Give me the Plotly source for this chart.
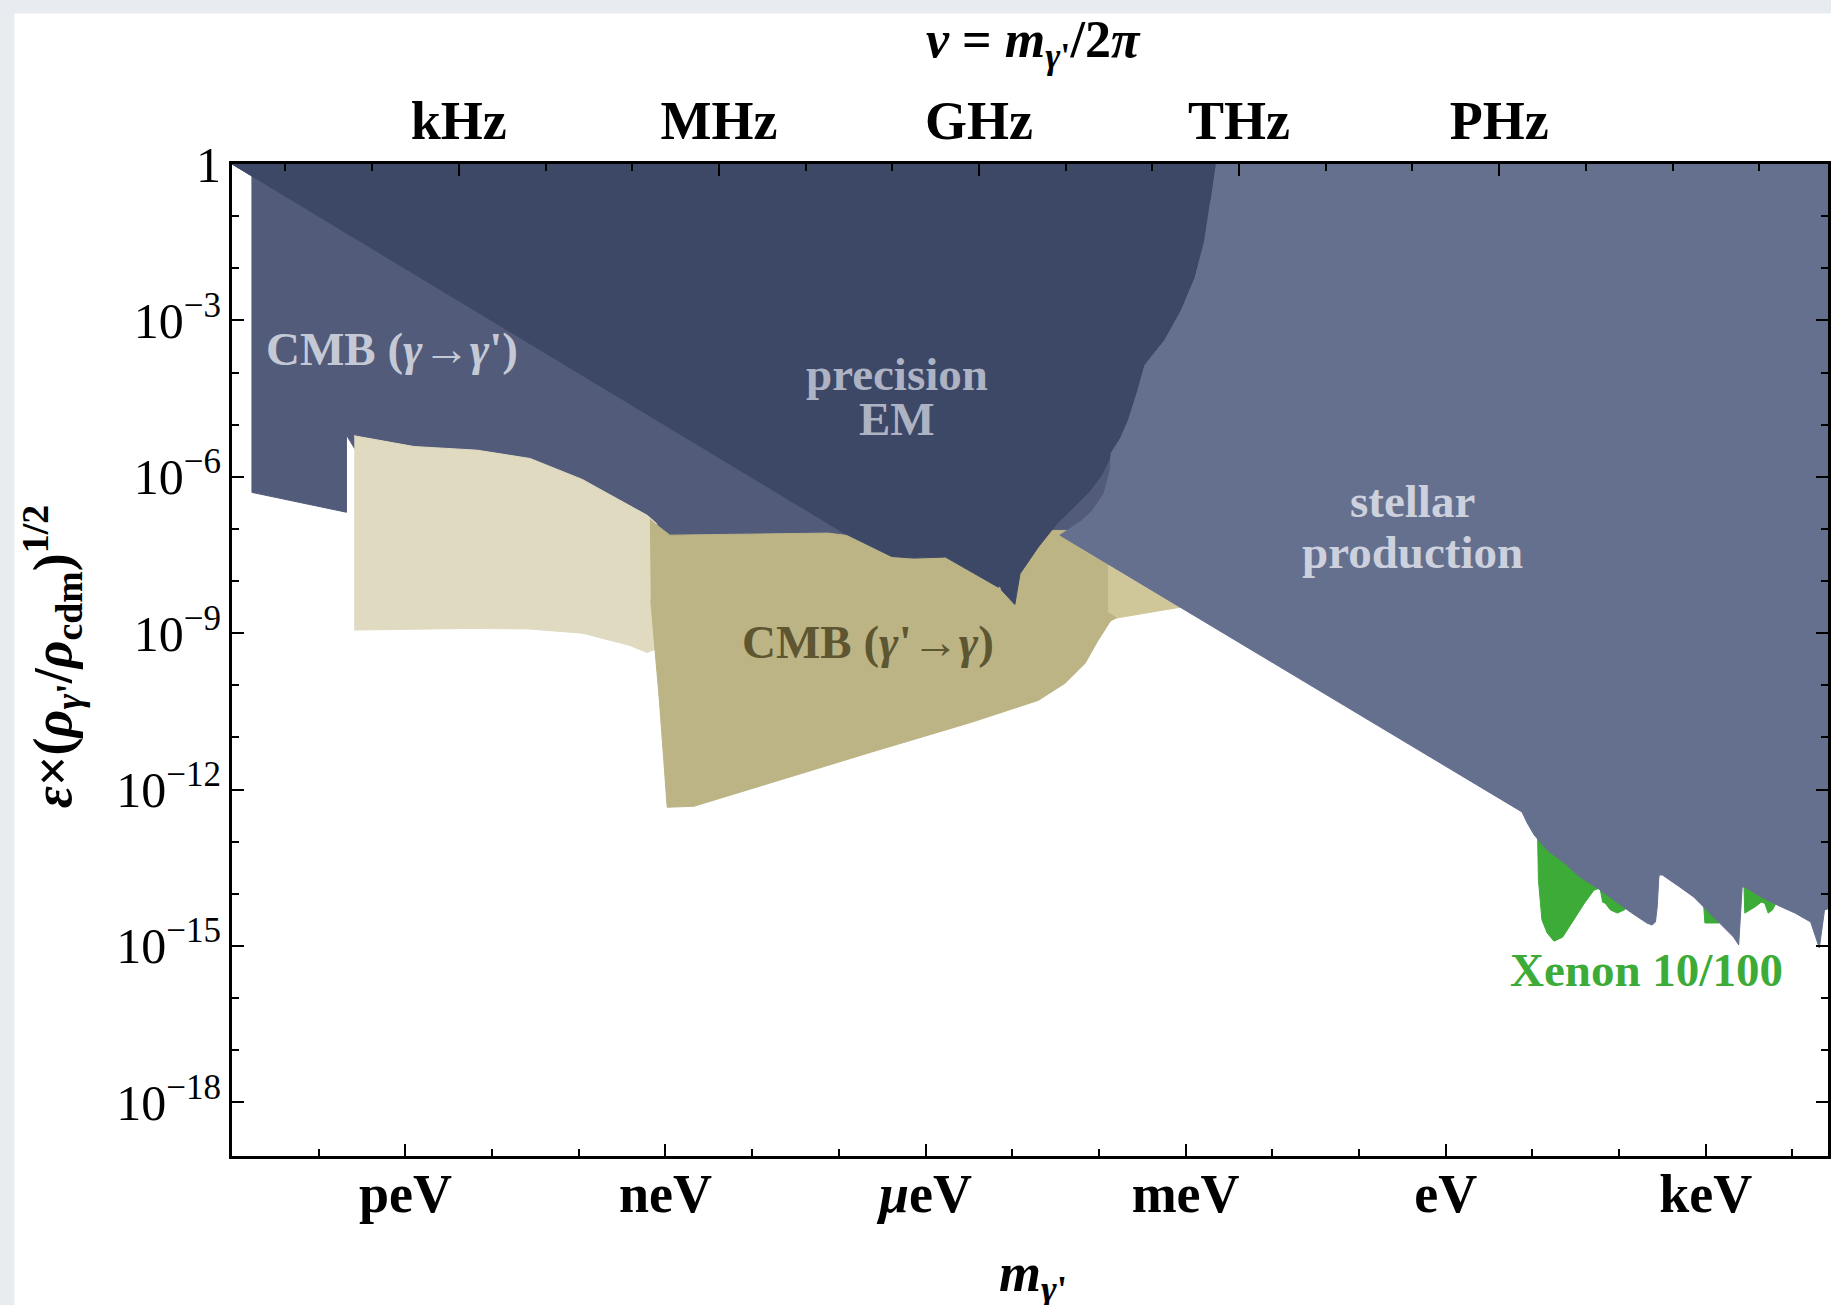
import numpy as np
import plotly.graph_objects as go

H_EV_S = 4.135667696e-15  # eV per Hz (m = h * nu)

# ---------------- data: region outlines, log10(m/eV) and log10(eps) ----------------
# CMB (gamma -> gamma') medium navy region (partly hidden under other regions)
cmbgg_lx = [-14.0, -13.77, -13.77, -12.68, -12.68, -12.57, -11.90, -11.17, -10.56, -9.96, -9.21,
            -9.00, -4.45, -4.45, -4.20, -4.07, -3.94, -3.87, -3.86, -3.86]
cmbgg_ly = [0.0, -0.23, -6.30, -6.68, -5.20, -5.50, -5.70, -5.80, -6.00, -6.40, -7.10,
            -7.40, -7.40, -7.12, -6.85, -6.64, -6.32, -5.88, -5.55, 0.3]

# light beige CMB (gamma' -> gamma) band
beige_lx = [-12.59, -12.57, -11.90, -11.17, -10.56, -9.96, -9.21, -9.10, -9.10, -9.21,
            -9.42, -9.96, -10.57, -11.26, -12.59]
beige_ly = [-5.21, -5.22, -5.42, -5.49, -5.65, -6.05, -6.74, -6.90, -9.30, -9.37,
            -9.23, -9.00, -8.92, -8.91, -8.94]

# lighter olive wedge
lolive_lx = [-3.90, -2.91, -2.91, -3.80, -3.90]
lolive_ly = [-7.31, -7.31, -8.46, -8.71, -8.79]

# dark olive CMB (gamma' -> gamma)
olive_lx = [-9.18, -8.95, -7.13, -6.93, -6.31, -4.64, -3.90, -3.90, -3.80, -3.86, -4.01,
            -4.16, -4.39, -4.70, -5.47, -6.62, -7.77, -8.67, -8.98, -9.07, -9.17]
olive_ly = [-6.82, -7.12, -7.08, -7.12, -7.03, -7.03, -7.03, -8.60, -8.71, -8.75, -9.14,
            -9.58, -9.96, -10.29, -10.71, -11.28, -11.86, -12.32, -12.34, -10.29, -8.37]

# precision EM (dark navy)
prec_lx = [-14.0, -6.93, -6.39, -6.14, -5.77, -5.47, -5.16, -5.14, -5.12, -4.97, -4.91,
           -4.70, -4.64, -4.47, -4.30, -4.12, -3.97, -3.86, -3.75, -3.66, -3.55, -3.47,
           -3.24, -3.05, -2.89, -2.78, -2.71, -2.65]
prec_ly = [0.0, -7.09, -7.53, -7.56, -7.54, -7.83, -8.12, -8.09, -8.18, -8.45, -7.86,
           -7.35, -7.22, -6.87, -6.60, -6.30, -5.97, -5.59, -5.26, -4.92, -4.34, -3.86,
           -3.38, -2.81, -2.18, -1.47, -0.70, 0.0]

# Xenon 10/100 (green)
xenon_lx = [1.06, 1.06, 1.07, 1.11, 1.17, 1.25, 1.35, 1.48, 1.60, 1.71, 1.78, 1.81, 1.84,
            1.90, 1.98, 2.06, 2.12, 2.32, 2.40, 2.47, 2.70, 2.86, 2.97, 2.99, 3.15, 3.16,
            3.32, 3.37, 3.41, 3.44, 3.45, 3.57, 3.64, 3.68, 3.72, 3.77, 3.81, 3.83, 3.83]
xenon_ly = [-12.20, -12.89, -13.74, -14.50, -14.75, -14.91, -14.83, -14.50, -14.18, -13.93,
            -13.89, -14.16, -14.18, -14.31, -14.37, -14.31, -14.22, -14.41, -14.41, -13.51,
            -13.74, -13.93, -14.08, -14.56, -14.56, -14.47, -14.70, -14.79, -13.74, -13.81,
            -14.37, -14.25, -14.16, -14.18, -14.37, -14.31, -14.18, -14.12, -13.16]

# stellar production
stellar_lx = [-2.65, 4.60, 4.60, 4.37, 4.31, 4.21, 4.03, 3.83, 3.64, 3.45, 3.42, 3.38, 3.32,
              3.16, 3.01, 2.86, 2.70, 2.50, 2.46, 2.44, 2.42, 2.38, 2.32, 2.13, 1.94, 1.75,
              1.55, 1.37, 1.17, 1.02, 0.94, 0.88, -4.45, -4.20, -4.07, -3.94, -3.87, -3.86,
              -3.75, -3.66, -3.55, -3.47, -3.24, -3.05, -2.89, -2.78, -2.71]
stellar_ly = [0.0, 0.0, -14.18, -14.31, -15.04, -14.54, -14.37, -14.22, -14.06, -13.87,
              -13.87, -14.98, -14.83, -14.56, -14.31, -14.06, -13.87, -13.64, -13.64, -14.25,
              -14.54, -14.60, -14.56, -14.35, -14.12, -13.89, -13.68, -13.41, -13.16, -12.87,
              -12.64, -12.43, -7.12, -6.85, -6.64, -6.32, -5.88, -5.55, -5.26, -4.92, -4.34,
              -3.86, -3.38, -2.81, -2.18, -1.47, -0.70]

# axis ticks
mass_major_exp = [-12, -9, -6, -3, 0, 3]
mass_major_txt = ["peV", "neV", "<i>μ</i>eV", "meV", "eV", "keV"]
freq_major_exp = [3, 6, 9, 12, 15]
freq_major_txt = ["kHz", "MHz", "GHz", "THz", "PHz"]
eps_major_exp = [0, -3, -6, -9, -12, -15, -18]

# colors
C_CMBGG = "#525b7a"
C_BEIGE = "#e0dac0"
C_LOLIVE = "#cfc79a"
C_OLIVE = "#bcb485"
C_PREC = "#3d4866"
C_XENON = "#3dab37"
C_STELLAR = "#65708f"

FONT = "Liberation Serif"


def poly(lx, ly, color):
    return go.Scatter(
        x=10.0 ** np.array(lx), y=10.0 ** np.array(ly), mode="lines", fill="toself",
        fillcolor=color, line=dict(width=1, color=color), hoverinfo="skip",
        showlegend=False,
    )


fig = go.Figure()
fig.add_trace(poly(cmbgg_lx, cmbgg_ly, C_CMBGG))
fig.add_trace(poly(beige_lx, beige_ly, C_BEIGE))
fig.add_trace(poly(lolive_lx, lolive_ly, C_LOLIVE))
fig.add_trace(poly(olive_lx, olive_ly, C_OLIVE))
fig.add_trace(poly(prec_lx, prec_ly, C_PREC))
fig.add_trace(poly(xenon_lx, xenon_ly, C_XENON))
fig.add_trace(poly(stellar_lx, stellar_ly, C_STELLAR))
# dummy trace to attach the frequency axis
fig.add_trace(go.Scatter(x=[1e-10], y=[1e-30], xaxis="x2", mode="markers",
                         marker=dict(opacity=0), hoverinfo="skip", showlegend=False))

XR = [-14, 4.41]
YR = [-19.03, 0]

mass_minor = [10.0 ** k for k in range(-13, 5) if k not in mass_major_exp]
freq_minor = [H_EV_S * 10.0 ** k for k in range(1, 19) if k not in freq_major_exp]
eps_minor = [10.0 ** k for k in range(-18, 0) if k not in eps_major_exp]

ytxt = ["1"] + ["10<sup>−%d</sup>" % (-k) for k in eps_major_exp[1:]]

axis_common = dict(showgrid=False, zeroline=False, showline=True, linecolor="black",
                   linewidth=3, ticks="inside", ticklen=12, tickwidth=2, tickcolor="black")

fig.update_layout(
    width=1831, height=1305,
    margin=dict(l=232, r=0, t=164, b=149),
    paper_bgcolor="#e8ebef",
    plot_bgcolor="white",
    showlegend=False,
    xaxis=dict(type="log", range=XR, tickmode="array",
               tickvals=[10.0 ** k for k in mass_major_exp],
               ticktext=["<b>%s</b>" % t for t in mass_major_txt],
               tickfont=dict(family=FONT, size=54, color="black"),
               ticklabelstandoff=-12,
               minor=dict(tickvals=mass_minor, ticks="inside", ticklen=7, tickwidth=2,
                          tickcolor="black", showgrid=False),
               **axis_common),
    xaxis2=dict(type="log", range=XR, overlaying="x", side="top", anchor="y",
                tickmode="array",
                tickvals=[H_EV_S * 10.0 ** k for k in freq_major_exp],
                ticktext=["<b>%s</b>" % t for t in freq_major_txt],
                tickfont=dict(family=FONT, size=54, color="black"),
                ticklabelstandoff=0,
                minor=dict(tickvals=freq_minor, ticks="inside", ticklen=7, tickwidth=2,
                           tickcolor="black", showgrid=False),
                **axis_common),
    yaxis=dict(type="log", range=YR, tickmode="array",
               tickvals=[10.0 ** k for k in eps_major_exp], ticktext=ytxt,
               tickfont=dict(family=FONT, size=50, color="black"),
               ticklabelstandoff=-2, mirror="ticks",
               minor=dict(tickvals=eps_minor, ticks="inside", ticklen=7, tickwidth=2,
                          tickcolor="black", showgrid=False),
               **axis_common),
)

# white card behind the chart
fig.add_shape(type="rect", xref="paper", yref="paper", x0=-0.1363, x1=1.05, y0=-0.3,
              y1=1.1517, fillcolor="white", line=dict(width=0), layer="below")

lab_light = "#c5c9d6"
annots = [
    dict(x=-12.16, y=-3.54, text="<b>CMB (<i>γ</i>→<i>γ</i>')</b>", color=lab_light),
    dict(x=-6.33, y=-4.02, text="<b>precision</b>", color="#aeb3c4"),
    dict(x=-6.33, y=-4.90, text="<b>EM</b>", color="#aeb3c4"),
    dict(x=-0.38, y=-6.47, text="<b>stellar</b>", color="#cdd1dd"),
    dict(x=-0.38, y=-7.45, text="<b>production</b>", color="#cdd1dd"),
    dict(x=-6.66, y=-9.17, text="<b>CMB (<i>γ</i>'→<i>γ</i>)</b>", color="#5d5630"),
    dict(x=2.32, y=-15.46, text="<b>Xenon 10/100</b>", color=C_XENON),
]
for a in annots:
    fig.add_annotation(x=a["x"], y=a["y"], xref="x", yref="y", text=a["text"],
                       xanchor="center", yanchor="middle",
                       showarrow=False, font=dict(family=FONT, size=47, color=a["color"]))

fig.add_annotation(xref="paper", yref="paper", x=0.502, y=1.1214,
                   xanchor="center", yanchor="middle",
                   text="<b><i>ν</i> = <i>m</i><sub><i>γ</i>'</sub>/2<i>π</i></b>",
                   showarrow=False, font=dict(family=FONT, size=52, color="black"))
fig.add_annotation(xref="paper", yref="paper", x=0.502, y=-0.121,
                   xanchor="center", yanchor="middle",
                   text="<b><i>m</i><sub><i>γ</i>'</sub></b>",
                   showarrow=False, font=dict(family=FONT, size=54, color="black"))
fig.add_annotation(xref="paper", yref="paper", x=-0.1126, y=0.503, textangle=-90,
                   xanchor="center", yanchor="middle",
                   text="<b><i>ε</i>×(<i>ρ</i><sub><i>γ</i>'</sub>/<i>ρ</i><sub>cdm</sub>)<sup>1/2</sup></b>",
                   showarrow=False, font=dict(family=FONT, size=54, color="black"))

fig.write_html("out.html", config={"displayModeBar": False},
               post_script="document.body.style.margin='0px';")
